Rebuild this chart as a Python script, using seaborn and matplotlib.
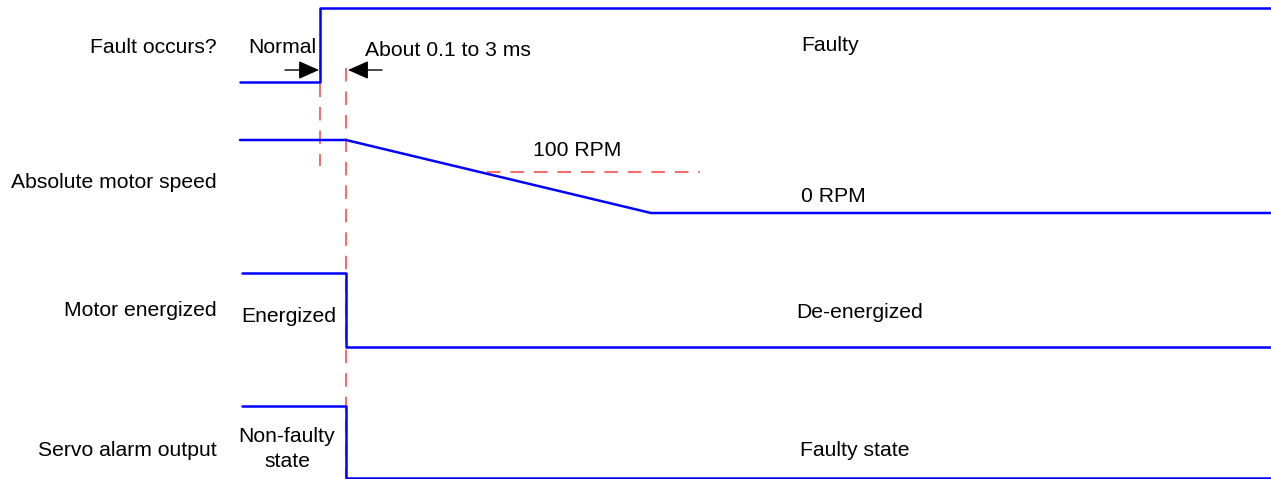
import matplotlib.pyplot as plt
import seaborn as sns
import pandas as pd

# signal edges (time positions on the diagram)
t_start = 240
t_fault = 320
t_react = 346
t_stop = 651
t_end = 1271

signal_names = ['Fault occurs?', 'Absolute motor speed', 'Motor energized', 'Servo alarm output']
label_y = [47, 182, 311, 450]

# vertices of each trace (time, level)
fault_t = [t_start, t_fault, t_fault, t_end]
fault_v = [82, 82, 8, 8]
speed_t = [t_start, t_react, t_stop, t_end]
speed_v = [140, 140, 213, 213]
energ_t = [242, t_react, t_react, t_end]
energ_v = [273, 273, 347, 347]
alarm_t = [242, t_react, t_react, t_end]
alarm_v = [406, 406, 478, 478]

rpm_100_level = 172
rpm_100_span = [487, 700]

sns.set_theme(style='white')
plt.rcParams['font.family'] = ['Liberation Sans', 'DejaVu Sans']

rows = []
for name, ts, vs in zip(signal_names, [fault_t, speed_t, energ_t, alarm_t],
                        [fault_v, speed_v, energ_v, alarm_v]):
    for i, (t, v) in enumerate(zip(ts, vs)):
        rows.append({'signal': name, 'order': i, 't': t, 'v': v})
df = pd.DataFrame(rows)

fig = plt.figure(figsize=(12.71, 4.79), dpi=100)
ax = fig.add_axes([0, 0, 1, 1])

# red dashed guides
red = '#ff5a5a'
ax.plot([t_fault, t_fault], [60, 166], color=red, lw=1.3, dashes=(7.5, 5.5))
ax.plot([t_react, t_react], [68, 478], color=red, lw=1.3, dashes=(7.5, 5.5))
ax.plot(rpm_100_span, [rpm_100_level, rpm_100_level], color=red, lw=1.3, dashes=(7.5, 5.5))

sns.lineplot(data=df, x='t', y='v', units='signal', estimator=None, sort=False,
             color='#0000ff', lw=1.8, ax=ax, legend=False)

ax.set_xlim(0, 1271)
ax.set_ylim(479, 0)
ax.axis('off')

fs = 15.2
tkw = dict(fontsize=fs, color='black', va='center')
for name, y in zip(signal_names, label_y):
    ax.text(217, y, name, ha='right', **tkw)

ax.text(282, 47, 'Normal', ha='center', **tkw)
ax.text(365, 50, 'About 0.1 to 3 ms', ha='left', **tkw)
ax.text(830, 45, 'Faulty', ha='center', **tkw)
ax.text(577, 151, '100 RPM', ha='center', **tkw)
ax.text(833, 196, '0 RPM', ha='center', **tkw)
ax.text(289, 317, 'Energized', ha='center', **tkw)
ax.text(860, 313, 'De-energized', ha='center', **tkw)
ax.text(287, 449, 'Non-faulty\nstate', ha='center', linespacing=1.35, **tkw)
ax.text(855, 450, 'Faulty state', ha='center', **tkw)

arrow = dict(arrowstyle='-|>,head_length=0.9,head_width=0.4', color='black', lw=1,
             mutation_scale=14, shrinkA=0, shrinkB=0)
ax.annotate('', xy=(t_fault - 1, 70), xytext=(285, 70), arrowprops=arrow)
ax.annotate('', xy=(t_react + 2, 70), xytext=(382, 70), arrowprops=arrow)

plt.savefig('out.png', dpi=100)
